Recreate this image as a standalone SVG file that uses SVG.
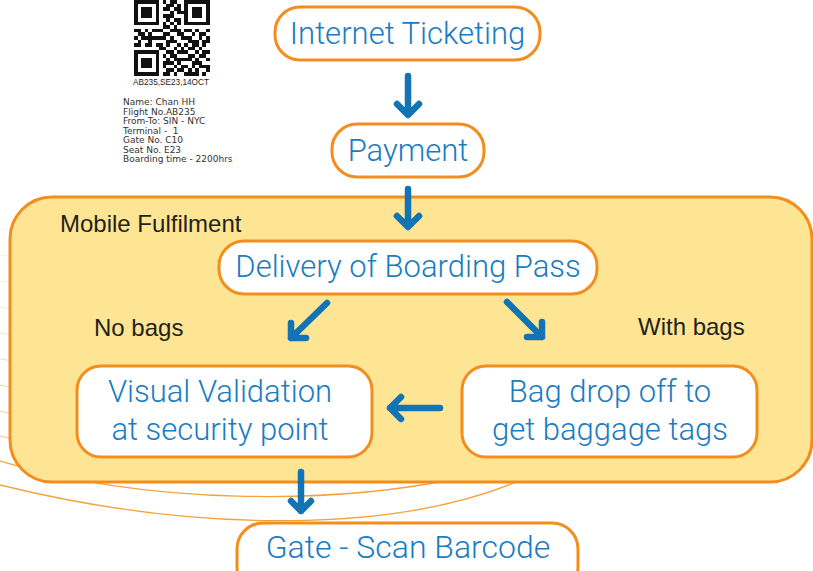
<svg xmlns="http://www.w3.org/2000/svg" width="813" height="571" viewBox="0 0 813 571">
<style>
.node rect{fill:#fff;stroke:#f38e1e;stroke-width:3}
.nt{font-family:Roboto,"Liberation Sans",sans-serif;font-weight:300;font-size:31px;fill:#1a7cc1;text-anchor:middle}
.lbl{font-family:"Liberation Sans",Arial,sans-serif;font-size:24px;fill:#231f20}
.bp{font-family:"DejaVu Sans",Verdana,sans-serif;font-size:9px;fill:#333}
.arr{fill:none;stroke:#1273b5;stroke-width:6.5;stroke-linecap:round;stroke-linejoin:round}
.deco{fill:none;stroke:#f7a13a;stroke-width:1.3}
</style>
<rect width="813" height="571" fill="#fff"/>
<!-- boarding pass -->
<g id="boarding-pass">
<g transform="translate(134,0) scale(3.6)" fill="#111" shape-rendering="crispEdges">
<path fill-rule="evenodd" d="M0 0h7v7h-7zM1 1v5h5v-5zM2 2h3v3h-3zM14 0h7v7h-7zM15 1v5h5v-5zM16 2h3v3h-3zM0 14h7v7h-7zM1 15v5h5v-5zM2 16h3v3h-3z"/>
<path d="M8 0h1v1h-1zM10 0h2v1h-2zM9 1h2v1h-2zM12 1h1v1h-1zM8 2h2v1h-2zM11 2h2v1h-2zM10 3h1v1h-1zM12 3h2v1h-2zM8 4h3v1h-3zM9 5h1v1h-1zM11 5h2v1h-2zM8 6h1v1h-1zM10 6h1v1h-1zM12 6h1v1h-1zM8 7h2v1h-2zM11 7h1v1h-1zM0 8h2v1h-2zM3 8h1v1h-1zM5 8h3v1h-3zM10 8h3v1h-3zM14 8h2v1h-2zM17 8h1v1h-1zM20 8h1v1h-1zM1 9h2v1h-2zM4 9h1v1h-1zM8 9h2v1h-2zM12 9h2v1h-2zM16 9h1v1h-1zM18 9h2v1h-2zM0 10h1v1h-1zM2 10h7v1h-7zM10 10h1v1h-1zM13 10h3v1h-3zM18 10h1v1h-1zM20 10h1v1h-1zM1 11h1v1h-1zM4 11h1v1h-1zM9 11h3v1h-3zM15 11h3v1h-3zM19 11h2v1h-2zM0 12h2v1h-2zM3 12h2v1h-2zM6 12h2v1h-2zM9 12h1v1h-1zM12 12h1v1h-1zM14 12h1v1h-1zM16 12h2v1h-2zM19 12h1v1h-1zM7 13h2v1h-2zM11 13h1v1h-1zM13 13h1v1h-1zM15 13h2v1h-2zM18 13h1v1h-1zM9 14h2v1h-2zM12 14h3v1h-3zM17 14h1v1h-1zM19 14h2v1h-2zM8 15h1v1h-1zM10 15h2v1h-2zM15 15h2v1h-2zM18 15h2v1h-2zM9 16h1v1h-1zM11 16h5v1h-5zM17 16h1v1h-1zM20 16h1v1h-1zM8 17h3v1h-3zM12 17h1v1h-1zM16 17h3v1h-3zM8 18h1v1h-1zM11 18h1v1h-1zM13 18h2v1h-2zM16 18h1v1h-1zM18 18h3v1h-3zM9 19h2v1h-2zM12 19h2v1h-2zM15 19h1v1h-1zM17 19h1v1h-1zM20 19h1v1h-1zM8 20h2v1h-2zM11 20h1v1h-1zM14 20h4v1h-4zM19 20h1v1h-1z"/>
</g>
<text x="133" y="85" font-family="'Liberation Sans',Arial,sans-serif" font-size="8.5" fill="#222" textLength="76" lengthAdjust="spacingAndGlyphs">AB235,SE23,14OCT</text>
<text class="bp" x="123" y="105">Name: Chan HH</text>
<text class="bp" x="123" y="114.5">Flight No.AB235</text>
<text class="bp" x="123" y="124">From-To: SIN - NYC</text>
<text class="bp" x="123" y="133.5" xml:space="preserve">Terminal -  1</text>
<text class="bp" x="123" y="143">Gate No. C10</text>
<text class="bp" x="123" y="152.5">Seat No. E23</text>
<text class="bp" x="123" y="162">Boarding time - 2200hrs</text>
</g>
<!-- decorative lines -->
<g id="decor">
<g stroke="#f6a24a" stroke-width="1.2">
<line x1="0" y1="229" x2="14" y2="231" stroke-opacity="0.12"/>
<line x1="0" y1="255" x2="14" y2="257" stroke-opacity="0.18"/>
<line x1="0" y1="281" x2="14" y2="283" stroke-opacity="0.22"/>
<line x1="0" y1="307" x2="14" y2="309" stroke-opacity="0.28"/>
<line x1="0" y1="333" x2="14" y2="335" stroke-opacity="0.34"/>
<line x1="0" y1="359" x2="14" y2="361" stroke-opacity="0.4"/>
<line x1="0" y1="385" x2="14" y2="388" stroke-opacity="0.48"/>
<line x1="0" y1="411" x2="14" y2="414" stroke-opacity="0.55"/>
<line x1="0" y1="436" x2="14" y2="439" stroke-opacity="0.65"/>
</g>
<path class="deco" d="M0 461C150 505 330 505 460 478"/>
<path class="deco" d="M0 485C190 532 400 536 530 476"/>
</g>
<!-- container -->
<g id="mobile-fulfilment">
<rect x="10" y="197" width="802" height="285" rx="42" fill="#fde593" stroke="#f38e1e" stroke-width="3"/>
<text class="lbl" x="60" y="232">Mobile Fulfilment</text>
</g>
<g id="label-no-bags"><text class="lbl" x="94" y="336">No bags</text></g>
<g id="label-with-bags"><text class="lbl" x="638" y="335">With bags</text></g>
<!-- nodes -->
<g id="internet-ticketing" class="node">
<rect x="275" y="7" width="265" height="53" rx="25"/>
<text class="nt" x="407.5" y="44">Internet Ticketing</text>
</g>
<g id="payment" class="node">
<rect x="332" y="124" width="152" height="53" rx="25"/>
<text class="nt" x="408" y="161">Payment</text>
</g>
<g id="delivery" class="node">
<rect x="219" y="241" width="378" height="53" rx="25"/>
<text class="nt" x="408" y="277">Delivery of Boarding Pass</text>
</g>
<g id="visual-validation" class="node">
<rect x="77" y="366" width="295" height="91" rx="24"/>
<text class="nt" x="220" y="402">Visual Validation</text>
<text class="nt" x="220" y="440">at security point</text>
</g>
<g id="bag-drop" class="node">
<rect x="462" y="366" width="295" height="91" rx="24"/>
<text class="nt" x="610" y="402">Bag drop off to</text>
<text class="nt" x="610" y="440">get baggage tags</text>
</g>
<g id="gate" class="node">
<rect x="237" y="523" width="341" height="70" rx="26"/>
<text class="nt" x="408" y="558" style="font-size:32px">Gate - Scan Barcode</text>
</g>
<!-- connectors -->
<g id="connectors" class="arr">
<path d="M408 76V114M397 104L408 115L419 104"/>
<path d="M408 189V226M397 216L408 227L419 216"/>
<path d="M327 303L291 338M291 323L291 338L306 338"/>
<path d="M507 302L542 337M542 322L542 337L527 337"/>
<path d="M440 408H390M401 397L390 408L401 419"/>
<path d="M301 472V511M291 501L301 511L311 501"/>
</g>
</svg>
